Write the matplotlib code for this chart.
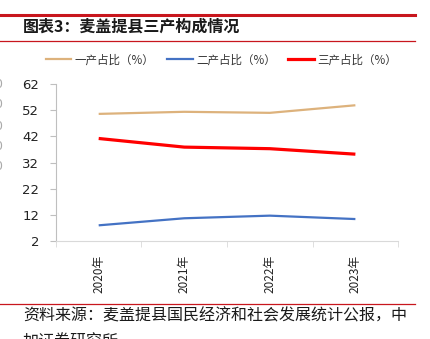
import numpy as np
import matplotlib.pyplot as plt
from matplotlib.lines import Line2D

plt.rcParams['font.family'] = ['Noto Sans CJK SC', 'DejaVu Sans']

years = ["2020年", "2021年", "2022年", "2023年"]
primary = [50.6, 51.4, 51.0, 53.9]     # 一产占比
secondary = [8.0, 10.7, 11.7, 10.4]    # 二产占比
tertiary = [41.2, 37.9, 37.3, 35.2]    # 三产占比
yticks = [2, 12, 22, 32, 42, 52, 62]

C1, C2, C3 = "#DDB27C", "#4472C4", "#FF0000"
RED = "#C8161D"
W, H = 430, 339

fig = plt.figure(figsize=(4.3, 3.39), dpi=100)
ax = fig.add_axes([0.130, 0.289, 0.796, 0.463])

x = np.arange(len(years))
ax.plot(x, primary, color=C1, lw=1.6, solid_capstyle="butt")
ax.plot(x, secondary, color=C2, lw=1.6, solid_capstyle="butt")
ax.plot(x, tertiary, color=C3, lw=2.3, solid_capstyle="butt")

ax.set_xlim(-0.5, len(years) - 0.5)
ax.set_ylim(2, 62)
ax.set_yticks(yticks)
ax.set_yticklabels([str(v) for v in yticks], fontsize=9.5, color="#222222",
                   family=["DejaVu Sans"])
ax.set_xticks(x)
ax.set_xticklabels(years, rotation=90, fontsize=8.5, color="#222222")
ax.set_xticks(np.arange(-0.5, len(years)), minor=True)
ax.tick_params(axis="x", which="major", length=0, pad=10)
ax.tick_params(axis="x", which="minor", length=4, color="#d9d9d9", direction="out")
ax.tick_params(axis="y", length=4, color="#bfbfbf", direction="out", pad=8)
for s in ["top", "right"]:
    ax.spines[s].set_visible(False)
ax.spines["left"].set_color("#bfbfbf")
ax.spines["bottom"].set_color("#d9d9d9")
ax.spines["left"].set_linewidth(0.8)
ax.spines["bottom"].set_linewidth(0.8)

handles = [Line2D([], [], color=C1, lw=1.6), Line2D([], [], color=C2, lw=1.6),
           Line2D([], [], color=C3, lw=2.3)]
fig.legend(handles, ["一产占比（%）", "二产占比（%）", "三产占比（%）"],
           loc="center", bbox_to_anchor=(0.515, 0.823), ncol=3, frameon=False,
           fontsize=8.3, handlelength=2.2, handletextpad=0.3, columnspacing=1.1,
           labelcolor="#333333")

# 标题栏与页脚
fig.add_artist(Line2D([0, 0.965], [1 - 15 / H] * 2, color=RED, lw=2.2))
fig.add_artist(Line2D([0, 0.965], [1 - 41 / H] * 2, color=RED, lw=0.9))
fig.text(23 / W, 1 - 27 / H, "图表3：麦盖提县三产构成情况", fontsize=11.5,
         fontweight="bold", va="center", ha="left", color="#1a1a1a")
fig.add_artist(Line2D([0, 0.965], [1 - 304 / H] * 2, color=RED, lw=0.9))
fig.text(23 / W, 1 - 316 / H, "资料来源：麦盖提县国民经济和社会发展统计公报，中",
         fontsize=11.5, va="center", ha="left", color="#1a1a1a")
fig.text(23 / W, 1 - 342 / H, "加证券研究所", fontsize=11.5, va="center",
         ha="left", color="#1a1a1a")

# 左侧相邻图表残留的刻度
for yy in [85, 105, 126, 147, 167]:
    fig.text(2 / W, 1 - yy / H, "0", fontsize=9, ha="right", va="center",
             color="#aaaaaa", family=["DejaVu Sans"])

plt.savefig("out.png", dpi=100)
